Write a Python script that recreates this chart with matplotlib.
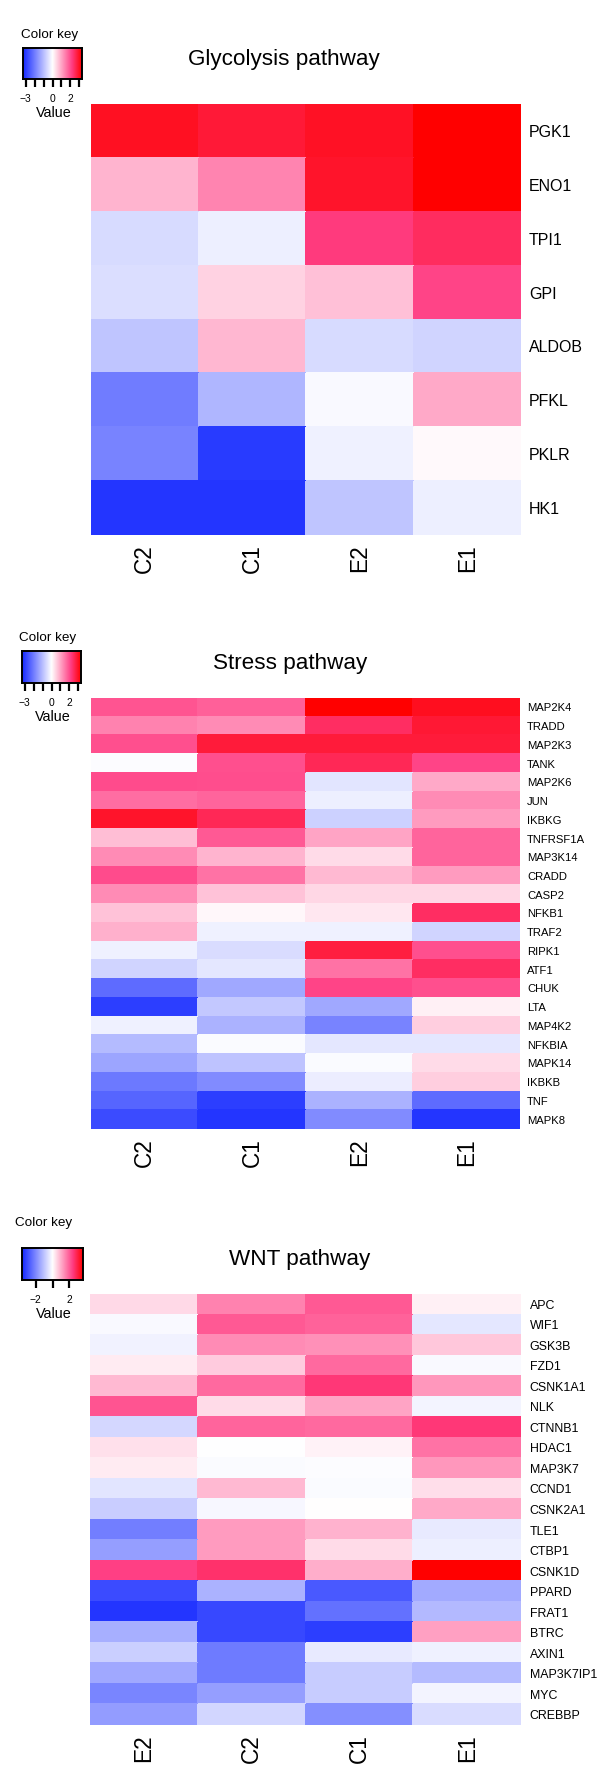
import numpy as np
import matplotlib
matplotlib.use("Agg")
import matplotlib.pyplot as plt
from matplotlib.colors import LinearSegmentedColormap, Normalize

plt.rcParams['font.family'] = ['Liberation Sans', 'DejaVu Sans']

# ---------------- data ----------------
glyco_genes = ["PGK1", "ENO1", "TPI1", "GPI", "ALDOB", "PFKL", "PKLR", "HK1"]
glyco_samples = ["C2", "C1", "E2", "E1"]
glyco_values = [
    [3.01, 2.82, 2.97, 3.30],
    [0.85, 1.38, 2.93, 3.30],
    [-0.55, -0.24, 2.24, 2.49],
    [-0.49, 0.49, 0.71, 2.11],
    [-0.88, 0.80, -0.55, -0.66],
    [-2.00, -1.11, -0.10, 0.96],
    [-1.90, -3.00, -0.21, 0.06],
    [-3.07, -3.09, -0.88, -0.24],
]

stress_genes = ["MAP2K4", "TRADD", "MAP2K3", "TANK", "MAP2K6", "JUN", "IKBKG",
                "TNFRSF1A", "MAP3K14", "CRADD", "CASP2", "NFKB1", "TRAF2", "RIPK1",
                "ATF1", "CHUK", "LTA", "MAP4K2", "NFKBIA", "MAPK14", "IKBKB", "TNF", "MAPK8"]
stress_samples = ["C2", "C1", "E2", "E1"]
stress_values = [
    [1.92, 1.80, 3.30, 3.02],
    [1.41, 1.30, 2.47, 2.84],
    [1.97, 2.79, 2.79, 2.79],
    [-0.04, 1.97, 2.57, 2.09],
    [2.03, 2.00, -0.41, 0.96],
    [1.64, 1.75, -0.24, 1.30],
    [2.93, 2.57, -0.72, 1.13],
    [0.73, 1.86, 1.02, 1.75],
    [1.30, 0.85, 0.39, 1.75],
    [2.03, 1.58, 0.79, 1.13],
    [1.30, 0.68, 0.45, 0.45],
    [0.68, 0.08, 0.28, 2.47],
    [0.90, -0.21, -0.21, -0.66],
    [-0.21, -0.52, 2.75, 1.97],
    [-0.66, -0.38, 1.58, 2.47],
    [-2.25, -1.33, 2.09, 1.97],
    [-2.95, -0.83, -1.33, 0.17],
    [-0.21, -1.17, -1.90, 0.56],
    [-1.05, -0.07, -0.38, -0.38],
    [-1.39, -0.91, -0.07, 0.39],
    [-2.06, -1.76, -0.27, 0.56],
    [-2.35, -2.95, -1.17, -2.25],
    [-2.74, -3.09, -1.76, -3.09],
]

wnt_genes = ["APC", "WIF1", "GSK3B", "FZD1", "CSNK1A1", "NLK", "CTNNB1", "HDAC1",
             "MAP3K7", "CCND1", "CSNK2A1", "TLE1", "CTBP1", "CSNK1D", "PPARD",
             "FRAT1", "BTRC", "AXIN1", "MAP3K7IP1", "MYC", "CREBBP"]
wnt_samples = ["E2", "C2", "C1", "E1"]
wnt_values = [
    [0.46, 1.54, 2.03, 0.18],
    [-0.11, 2.03, 1.93, -0.41],
    [-0.20, 1.42, 1.35, 0.68],
    [0.25, 0.62, 1.85, -0.11],
    [0.86, 1.85, 2.50, 1.29],
    [2.09, 0.43, 1.11, -0.17],
    [-0.66, 1.91, 1.85, 2.50],
    [0.37, -0.02, 0.16, 1.72],
    [0.25, -0.08, -0.03, 1.29],
    [-0.44, 0.86, -0.08, 0.41],
    [-0.84, -0.14, 0.00, 1.05],
    [-2.14, 1.23, 0.95, -0.35],
    [-1.61, 1.23, 0.43, -0.26],
    [2.34, 2.60, 0.99, 3.60],
    [-2.99, -1.27, -2.76, -1.42],
    [-3.37, -3.06, -2.37, -1.18],
    [-1.33, -3.06, -3.22, 1.17],
    [-0.81, -2.22, -0.35, -0.23],
    [-1.46, -2.22, -0.87, -1.15],
    [-2.04, -1.61, -0.87, -0.17],
    [-1.64, -0.69, -1.88, -0.57],
]

titles = ["Glycolysis pathway", "Stress pathway", "WNT pathway"]

# ---------------- figure ----------------
W, H = 600, 1771
fig = plt.figure(figsize=(W / 100, H / 100), dpi=100)

cmap = LinearSegmentedColormap.from_list(
    "keycm",
    [(0.0, (20/255, 40/255, 1.0)),
     (0.5, (1.0, 1.0, 1.0)),
     (0.8333, (1.0, 60/255, 130/255)),
     (1.0, (1.0, 0.0, 0.0))])


def px_axes(x0, y0, x1, y1):
    return fig.add_axes([x0 / W, 1 - y1 / H, (x1 - x0) / W, (y1 - y0) / H])


def ftext(x, y, s, **kw):
    fig.text(x / W, 1 - y / H, s, **kw)


panels = [
    dict(genes=glyco_genes, samples=glyco_samples, vals=glyco_values, title=titles[0],
         hm=(91, 104, 521, 535), lab_fs=11.5, lab_pad=5.8,
         key=(23, 48, 82, 79), vmax=3.3, kticks=[-3, -2, -1, 0, 1, 2, 3],
         klabels=["\u22123", "", "", "0", "", "2", ""],
         ckey=(50, 35), title_xy=(284, 60)),
    dict(genes=stress_genes, samples=stress_samples, vals=stress_values, title=titles[1],
         hm=(91, 698, 520, 1129), lab_fs=8.1, lab_pad=5.0,
         key=(22, 651, 81, 683), vmax=3.3, kticks=[-3, -2, -1, 0, 1, 2, 3],
         klabels=["\u22123", "", "", "0", "", "2", ""],
         ckey=(48, 638), title_xy=(290, 663)),
    dict(genes=wnt_genes, samples=wnt_samples, vals=wnt_values, title=titles[2],
         hm=(90, 1294, 521, 1725), lab_fs=8.9, lab_pad=6.2,
         key=(22, 1248, 83, 1280), vmax=3.6, kticks=[-2, 0, 2],
         klabels=["\u22122", "", "2"],
         ckey=(44, 1223), title_xy=(300, 1260)),
]

for p in panels:
    vals = np.array(p["vals"], dtype=float)
    nrow, ncol = vals.shape
    norm = Normalize(vmin=-p["vmax"], vmax=p["vmax"])
    ax = px_axes(*p["hm"])
    ax.pcolormesh(np.arange(ncol + 1), np.arange(nrow + 1), vals, cmap=cmap, norm=norm,
                  edgecolor="face", linewidth=0.3)
    ax.set_xlim(0, ncol)
    ax.set_ylim(nrow, 0)
    ax.set_yticks(np.arange(nrow) + 0.5)
    ax.set_yticklabels(p["genes"], fontsize=p["lab_fs"])
    ax.yaxis.tick_right()
    ax.tick_params(axis="y", length=0, pad=p["lab_pad"])
    ax.set_xticks(np.arange(ncol) + 0.5)
    ax.set_xticklabels(p["samples"], rotation=90, fontsize=16.3)
    ax.tick_params(axis="x", length=0, pad=6.5)
    for s in ax.spines.values():
        s.set_visible(False)

    # colour key
    kx0, ky0, kx1, ky1 = p["key"]
    kax = px_axes(kx0, ky0, kx1, ky1)
    grad = np.linspace(-p["vmax"], p["vmax"], 256)[None, :]
    kax.imshow(grad, aspect="auto", cmap=cmap, norm=norm,
               extent=(-p["vmax"], p["vmax"], 0, 1))
    kax.set_xlim(-p["vmax"], p["vmax"])
    kax.set_ylim(0, 1)
    kax.set_yticks([])
    kax.set_xticks(p["kticks"])
    kax.set_xticklabels(p["klabels"], fontsize=7.4)
    kax.tick_params(axis="x", direction="out", length=6, width=1.6, pad=5)
    for s in kax.spines.values():
        s.set_linewidth(1.4)
    kcx = (kx0 + kx1) / 2
    ftext(p["ckey"][0], p["ckey"][1], "Color key", fontsize=9.7, ha="center", va="center")
    ftext(kcx + 1, ky1 + 34, "Value", fontsize=10.4, ha="center", va="center")

    ftext(p["title_xy"][0], p["title_xy"][1], p["title"], fontsize=16.2,
          ha="center", va="center")

fig.savefig("out.png", dpi=100, facecolor="white")
